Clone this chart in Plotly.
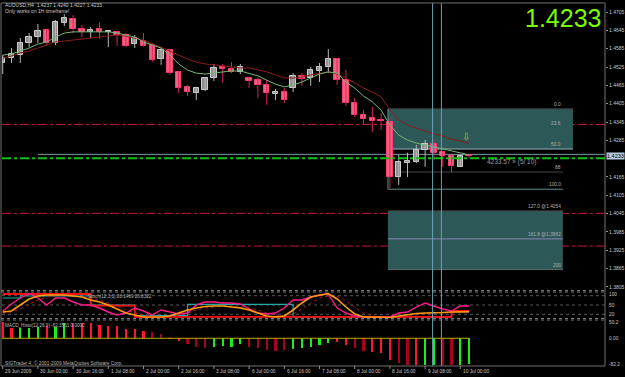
import plotly.graph_objects as go

W, H = 625, 377

# ---------------- data ----------------
header_line = "AUDUSD,H4  1.4237 1.4240 1.4227 1.4233"
header_note = "Only works on 1H timeframe!"
big_price = "1.4233"
last_price = 1.4233
timer_text = "4233.57 » (5/ 10)"
stoch_title = "Stoch(12,3,3) 28.1469 26.8322"
macd_title = "MACD_Histo(12,26,9) -62.3561 0.0000"
copyright_text = "SIGTrader 4, © 2001-2009 MetaQuotes Software Corp."

bars = list(range(54))
opens = [1.4538, 1.4554, 1.4564, 1.4604, 1.4623, 1.4646, 1.4604, 1.4669, 1.4682, 1.4649,
         1.4640, 1.4649, 1.4640, 1.4640, 1.4630, 1.4600, 1.4610, 1.4597, 1.4551, 1.4581,
         1.4509, 1.4460, 1.4440, 1.4450, 1.4489, 1.4525, 1.4518, 1.4509, 1.4489, 1.4482,
         1.4466, 1.4437, 1.4443, 1.4456, 1.4497, 1.4489, 1.4513, 1.4525, 1.4551, 1.4482,
         1.4407, 1.4368, 1.4358, 1.4350, 1.4345, 1.4165, 1.4211, 1.4214, 1.4253, 1.4273,
         1.4248, 1.4234, 1.4199, 1.4237]
highs = [1.4564, 1.4587, 1.4620, 1.4636, 1.4666, 1.4649, 1.4679, 1.4698, 1.4695, 1.4662,
         1.4656, 1.4672, 1.4643, 1.4643, 1.4636, 1.4630, 1.4636, 1.4604, 1.4587, 1.4583,
         1.4511, 1.4466, 1.4460, 1.4492, 1.4535, 1.4535, 1.4541, 1.4535, 1.4491, 1.4492,
         1.4482, 1.4453, 1.4456, 1.4505, 1.4505, 1.4525, 1.4538, 1.4584, 1.4554, 1.4515,
         1.4424, 1.4384, 1.4394, 1.4374, 1.4358, 1.4237, 1.4244, 1.4270, 1.4286, 1.4286,
         1.4250, 1.4237, 1.4237, 1.4240]
lows = [1.4502, 1.4538, 1.4538, 1.4590, 1.4604, 1.4597, 1.4597, 1.4659, 1.4636, 1.4623,
        1.4620, 1.4617, 1.4590, 1.4594, 1.4590, 1.4587, 1.4592, 1.4541, 1.4532, 1.4499,
        1.4440, 1.4430, 1.4417, 1.4446, 1.4479, 1.4473, 1.4505, 1.4502, 1.4456, 1.4424,
        1.4401, 1.4417, 1.4407, 1.4443, 1.4463, 1.4463, 1.4476, 1.4505, 1.4466, 1.4397,
        1.4361, 1.4335, 1.4312, 1.4319, 1.4129, 1.4139, 1.4165, 1.4211, 1.4198, 1.4221,
        1.4198, 1.4181, 1.4198, 1.4227]
closes = [1.4554, 1.4566, 1.4604, 1.4623, 1.4643, 1.4604, 1.4672, 1.4685, 1.4649, 1.4640,
          1.4646, 1.4640, 1.4642, 1.4630, 1.4594, 1.4620, 1.4594, 1.4548, 1.4581, 1.4506,
          1.4456, 1.4443, 1.4456, 1.4489, 1.4523, 1.4518, 1.4509, 1.4525, 1.4479, 1.4466,
          1.4440, 1.4443, 1.4417, 1.4496, 1.4486, 1.4515, 1.4525, 1.4551, 1.4482, 1.4407,
          1.4368, 1.4355, 1.4348, 1.4348, 1.4165, 1.4214, 1.4217, 1.4253, 1.4273, 1.4245,
          1.4234, 1.4201, 1.4234, 1.4233]
ma_fast = [1.4564, 1.4568, 1.4577, 1.4587, 1.4600, 1.4607, 1.4623, 1.4636, 1.4640, 1.4640,
           1.4640, 1.4640, 1.4640, 1.4636, 1.4630, 1.4623, 1.4607, 1.4597, 1.4587, 1.4564,
           1.4535, 1.4515, 1.4505, 1.4502, 1.4505, 1.4509, 1.4512, 1.4512, 1.4505, 1.4496,
           1.4482, 1.4469, 1.4460, 1.4466, 1.4476, 1.4489, 1.4502, 1.4509, 1.4505, 1.4476,
           1.4456, 1.4430, 1.4411, 1.4384, 1.4335, 1.4302, 1.4286, 1.4276, 1.4270, 1.4263,
           1.4257, 1.4250, 1.4244, 1.4237]
ma_slow = [1.4554, 1.4561, 1.4571, 1.4577, 1.4587, 1.4597, 1.4607, 1.4610, 1.4613, 1.4617,
           1.4620, 1.4623, 1.4626, 1.4630, 1.4626, 1.4620, 1.4613, 1.4600, 1.4590, 1.4577,
           1.4564, 1.4551, 1.4541, 1.4535, 1.4532, 1.4528, 1.4525, 1.4522, 1.4522, 1.4515,
           1.4509, 1.4499, 1.4489, 1.4489, 1.4492, 1.4499, 1.4505, 1.4509, 1.4502, 1.4489,
           1.4473, 1.4456, 1.4443, 1.4427, 1.4384, 1.4352, 1.4335, 1.4325, 1.4316, 1.4306,
           1.4299, 1.4289, 1.4283, 1.4276]

stoch_pink = [30.6, 53.2, 72.6, 87.1, 72.6, 50.0, 72.6, 72.6, 59.7, 50.0,
              50.0, 40.3, 27.4, 17.7, 24.2, 40.3, 30.6, 17.7, 33.9, 27.4,
              21.0, 24.2, 50.0, 59.7, 59.7, 56.5, 56.5, 53.2, 37.1, 24.2,
              21.0, 24.2, 40.3, 66.1, 66.1, 75.8, 82.3, 85.5, 40.3, 24.2,
              14.5, 11.3, 11.3, 11.3, 11.3, 24.2, 27.4, 43.5, 56.5, 46.8,
              37.1, 30.6, 46.8, 46.8]
stoch_orange = [27.4, 30.6, 50.0, 69.4, 79.0, 82.3, 82.3, 82.3, 79.0, 75.8,
                66.1, 59.7, 50.0, 37.1, 24.2, 17.7, 11.3, 11.3, 11.3, 14.5,
                24.2, 33.9, 40.3, 45.2, 46.8, 46.8, 43.5, 40.3, 33.9, 24.2,
                14.5, 11.3, 14.5, 33.9, 56.5, 75.8, 82.3, 87.1, 69.4, 43.5,
                21.0, 11.3, 11.3, 9.7, 9.7, 14.5, 19.4, 22.6, 24.2, 24.2,
                25.8, 27.4, 27.0, 28.1]
stoch_signal = [24.2, 27.4, 37.1, 53.2, 66.1, 75.8, 79.0, 82.3, 79.0, 75.8,
                72.6, 66.1, 56.5, 46.8, 33.9, 24.2, 17.7, 14.5, 11.3, 11.3,
                17.7, 24.2, 33.9, 40.3, 43.5, 46.8, 46.8, 43.5, 40.3, 33.9,
                24.2, 17.7, 14.5, 21.0, 37.1, 56.5, 72.6, 79.0, 79.0, 62.9,
                43.5, 24.2, 14.5, 11.3, 11.3, 11.3, 14.5, 17.7, 21.0, 24.2,
                24.2, 25.8, 27.4, 26.8]
stoch_red = [85.5] * 10 + [48.0] * 5 + [12.0] * 36 + [30.6] * 3
stoch_teal = [72.6] * 2 + [79.0] * 8 + [50.0] * 5 + [16.0] * 6 + [52.0] * 12 + [11.3] * 18 + [27.4] * 3
stoch_levels = [80, 50, 20]

macd_hist = [50, 33, 31, 31, 36, 38, 36, 46, 46, 46,
             46, 41, 39, 38, 28, 29, 23, 20, 13, 5,
             -9, -18, -26, -31, -26, -23, -26, -18, -28, -31,
             -36, -38, -36, -34, -31, -26, -21, -14, -10, -21,
             -31, -38, -41, -46, -67, -75, -82, -82, -82, -82,
             -82, -82, -82, -79]
macd_kind = list("rrgggrggrrrrrrrrrdddrddd" "ggggddddd" "ggggg" "rrddrrrddr" "ggddgg")

time_labels = ["29 Jun 2009", "30 Jun 00:00", "30 Jun 16:00", "1 Jul 08:00", "2 Jul 00:00",
               "2 Jul 16:00", "3 Jul 08:00", "6 Jul 00:00", "6 Jul 16:00", "7 Jul 08:00",
               "8 Jul 00:00", "8 Jul 16:00", "9 Jul 08:00", "10 Jul 00:00"]
time_label_bars = [0, 4, 8, 12, 16, 20, 24, 28, 32, 36, 40, 44, 48, 52]
price_ticks = [1.4705, 1.4645, 1.4585, 1.4525, 1.4465, 1.4405, 1.4345, 1.4285,
               1.4165, 1.4105, 1.4045, 1.3985, 1.3925, 1.3865, 1.3805]

fib_names = ["0.0", "23.6", "50.0", "88", "100.0", "127.0 @1.4054", "161.8 @1.3962", "200"]
fib_prices = [1.4388, 1.43259, 1.42565, 1.41813, 1.4125, 1.4054, 1.39625, 1.3862]
fib_start_bar = 43.78
fib_upper_end_bar = 64.8
fib_lower_end_bar = 63.65
red_levels = [1.4337, 1.4046, 1.3939]
green_level = 1.4226
bid_level = 1.4239
bid_start_bar = 4.0
vline_bars = [48.85, 49.85]
arrow_bar, arrow_price = 52.65, 1.4299

# ---------------- layout helpers ----------------
def px(x):
    return x / W

def py(y):
    return 1 - y / H

X_RANGE = [-0.08, 68.44]
XDOM = [px(2), px(605)]
MAIN_DOM = [py(290), py(3)]
STO_DOM = [py(318), py(292)]
MACD_DOM = [py(366), py(322)]
FONT = "Liberation Sans, Arial, sans-serif"
TXT = "#c8c8c8"
BODY_W = 0.62
MIN_BODY = 0.00025

fig = go.Figure()

# ---- candles: wicks then bodies ----
for is_bull, wick_col in [(True, "#b8b8b8"), (False, "#d8265e")]:
    wx, wy = [], []
    for b, o, h, l, c in zip(bars, opens, highs, lows, closes):
        if (c >= o) == is_bull:
            wx += [b, b, None]
            wy += [l, h, None]
    fig.add_trace(go.Scatter(x=wx, y=wy, mode="lines", line=dict(color=wick_col, width=1),
                             showlegend=False, hoverinfo="skip", xaxis="x", yaxis="y"))

body_base = [min(o, c) for o, c in zip(opens, closes)]
body_len = [max(abs(c - o), MIN_BODY) for o, c in zip(opens, closes)]
body_fill = ["#8f8f8f" if c >= o else "#f0647f" for o, c in zip(opens, closes)]
body_edge = ["#cfcfcf" if c >= o else "#ff3c74" for o, c in zip(opens, closes)]
fig.add_trace(go.Bar(x=bars, y=body_len, base=body_base, width=BODY_W,
                     marker=dict(color=body_fill, line=dict(color=body_edge, width=1)),
                     showlegend=False, hoverinfo="skip", xaxis="x", yaxis="y"))

fig.add_trace(go.Scatter(x=bars, y=ma_slow, mode="lines", line=dict(color="#8e1c1c", width=1),
                         showlegend=False, hoverinfo="skip", xaxis="x", yaxis="y"))
fig.add_trace(go.Scatter(x=bars, y=ma_fast, mode="lines", line=dict(color="#74b874", width=1),
                         showlegend=False, hoverinfo="skip", xaxis="x", yaxis="y"))

# ---- stochastic panel ----
fig.add_trace(go.Scatter(x=bars, y=stoch_teal, mode="lines", line=dict(color="#23a8a8", width=1.2, shape="hv"),
                         showlegend=False, hoverinfo="skip", xaxis="x2", yaxis="y2"))
fig.add_trace(go.Scatter(x=bars, y=stoch_red, mode="lines", line=dict(color="#ff1010", width=1.8, shape="hv"),
                         showlegend=False, hoverinfo="skip", xaxis="x2", yaxis="y2"))
fig.add_trace(go.Scatter(x=bars, y=stoch_signal, mode="lines", line=dict(color="#b01818", width=1, dash="dot"),
                         showlegend=False, hoverinfo="skip", xaxis="x2", yaxis="y2"))
fig.add_trace(go.Scatter(x=bars, y=stoch_pink, mode="lines", line=dict(color="#ff1a8c", width=1.4),
                         showlegend=False, hoverinfo="skip", xaxis="x2", yaxis="y2"))
fig.add_trace(go.Scatter(x=bars, y=stoch_orange, mode="lines", line=dict(color="#ff9a10", width=1.6),
                         showlegend=False, hoverinfo="skip", xaxis="x2", yaxis="y2"))

# ---- MACD panel ----
kind_color = {"g": "#19f019", "r": "#ff1530", "d": "#a8001e"}
fig.add_trace(go.Bar(x=bars, y=macd_hist, width=0.26,
                     marker=dict(color=[kind_color[k] for k in macd_kind], line=dict(width=0)),
                     showlegend=False, hoverinfo="skip", xaxis="x3", yaxis="y3"))
fig.add_trace(go.Scatter(x=[bars[0] - 0.1, bars[-1]], y=[0, 0], mode="lines",
                         line=dict(color="#b8b000", width=1),
                         showlegend=False, hoverinfo="skip", xaxis="x3", yaxis="y3"))

shapes = []
shapes.append(dict(type="rect", xref="x", yref="y", x0=fib_start_bar, x1=fib_upper_end_bar,
                   y0=fib_prices[2], y1=fib_prices[0], fillcolor="#2c5858",
                   line=dict(width=0), layer="below"))
shapes.append(dict(type="rect", xref="x", yref="y", x0=fib_start_bar, x1=fib_lower_end_bar,
                   y0=fib_prices[7], y1=fib_prices[5], fillcolor="#2c5858",
                   line=dict(width=0), layer="below"))
fib_line_style = [("#404040", fib_upper_end_bar), (None, None), ("#9ab0c0", fib_upper_end_bar),
                  ("#454545", fib_lower_end_bar), ("#5f8f8f", fib_lower_end_bar),
                  ("#4a4a4a", fib_lower_end_bar), ("#8c86b8", fib_lower_end_bar),
                  ("#5a6a6a", fib_lower_end_bar)]
for price, (col, xend) in zip(fib_prices, fib_line_style):
    if col is None:
        continue
    shapes.append(dict(type="line", xref="x", yref="y", x0=fib_start_bar, x1=xend,
                       y0=price, y1=price, line=dict(color=col, width=1), layer="below"))
shapes.append(dict(type="line", xref="x", yref="y", x0=fib_start_bar, x1=fib_start_bar,
                   y0=fib_prices[4], y1=fib_prices[0], line=dict(color="#5f8f8f", width=1), layer="below"))
for lv in red_levels:
    shapes.append(dict(type="line", xref="paper", yref="y", x0=XDOM[0], x1=XDOM[1],
                       y0=lv, y1=lv, line=dict(color="#c8143c", width=1, dash="dashdot"), layer="below"))
shapes.append(dict(type="line", xref="x", yref="y", x0=bid_start_bar, x1=X_RANGE[1],
                   y0=bid_level, y1=bid_level, line=dict(color="#7a9f9f", width=1), layer="below"))
shapes.append(dict(type="line", xref="paper", yref="y", x0=XDOM[0], x1=XDOM[1],
                   y0=green_level, y1=green_level, line=dict(color="#10c010", width=2, dash="dashdot")))
for vb in vline_bars:
    shapes.append(dict(type="line", xref="x", yref="paper", x0=vb, x1=vb, y0=py(366), y1=py(3),
                       line=dict(color="#6aa4b4", width=1)))
for lv in stoch_levels:
    shapes.append(dict(type="line", xref="paper", yref="y2", x0=XDOM[0], x1=XDOM[1],
                       y0=lv, y1=lv, line=dict(color="#5a5a5a", width=1, dash="dot"), layer="below"))
for yy in [290.5, 292, 318.5, 320]:
    shapes.append(dict(type="line", xref="paper", yref="paper", x0=px(1), x1=px(605),
                       y0=py(yy), y1=py(yy), line=dict(color="#7a7a7a", width=1, dash="dot")))
shapes.append(dict(type="rect", xref="paper", yref="paper", x0=px(1), x1=px(605), y0=py(366), y1=py(3),
                   line=dict(color="#707070", width=1)))
for b in time_label_bars:
    shapes.append(dict(type="line", xref="x", yref="paper", x0=b, x1=b, y0=py(366), y1=py(369),
                       line=dict(color="#909090", width=1)))

ann = []
def text(x, y, s, size=5, color=TXT, xanchor="left", yanchor="middle", xref="paper", yref="paper", **kw):
    ann.append(dict(x=x, y=y, text=s, xref=xref, yref=yref, xanchor=xanchor, yanchor=yanchor,
                    showarrow=False, font=dict(family=FONT, size=size, color=color), **kw))

text(px(3), py(5.5), header_line, size=5)
text(px(3), py(11), header_note, size=5)
text(px(603), py(18), big_price, size=25, color="#7cfc00", xanchor="right")
text(px(606), last_price, f"{last_price:.4f}", size=5.5, color="#000000", yref="y",
     bgcolor="#b6cae0", borderpad=0)
text(arrow_bar, arrow_price, "⇩", size=10, color="#c8b040", xanchor="center", xref="x", yref="y")
text(px(485), py(162), timer_text, size=6.5, color="#9a9a9a")
for name, price in zip(fib_names, fib_prices):
    text(fib_lower_end_bar, price, name, size=4.8, color="#b0b0b0", xanchor="right",
         yanchor="bottom", xref="x", yref="y")
text(px(86), py(296), stoch_title, size=4.6, color="#b8b8b8")
text(px(3), py(325), macd_title, size=4.6, color="#b8b8b8")
text(px(3), py(362.5), copyright_text, size=4.8, color="#b8b8b8")
for b, lab in zip(time_label_bars, time_labels):
    text(b + 0.05, py(371.5), lab, size=4.8, xref="x")
for lab, yy in [("100", 294), ("50", 305), ("20", 314)]:
    text(px(607), py(yy), lab, size=4.8)
for lab, yy in [("50.2", 322.5), ("0.00", 338.3), ("-82.2", 364)]:
    text(px(607), py(yy), lab, size=4.8)

fig.update_layout(
    width=W, height=H, margin=dict(l=0, r=0, t=0, b=0),
    paper_bgcolor="#000000", plot_bgcolor="#000000",
    showlegend=False, shapes=shapes, annotations=ann, bargap=0, barmode="overlay",
    xaxis=dict(domain=XDOM, range=X_RANGE, visible=False, anchor="y"),
    xaxis2=dict(domain=XDOM, range=X_RANGE, visible=False, anchor="y2"),
    xaxis3=dict(domain=XDOM, range=X_RANGE, visible=False, anchor="y3"),
    yaxis=dict(domain=MAIN_DOM, range=[1.37951, 1.47345], side="right", anchor="x",
               tickvals=price_ticks, ticktext=[f"{p:.4f}" for p in price_ticks],
               tickfont=dict(family=FONT, size=5, color=TXT), ticks="outside", ticklen=2,
               tickcolor="#909090", showgrid=False, zeroline=False, showline=False),
    yaxis2=dict(domain=STO_DOM, range=[8.06, 91.9], anchor="x2", visible=False),
    yaxis3=dict(domain=MACD_DOM, range=[-85.3, 50.2], anchor="x3", visible=False),
)

fig.write_html("out.html")
